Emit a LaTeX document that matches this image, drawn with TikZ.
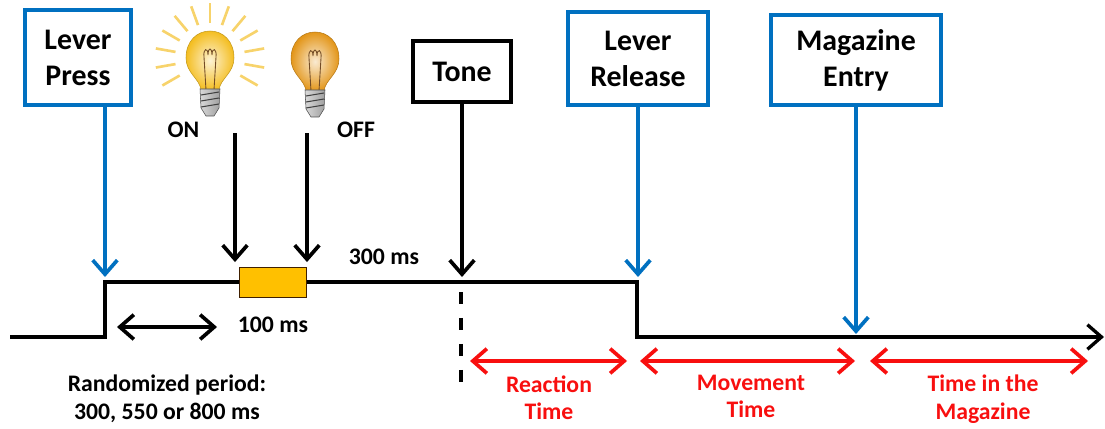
\documentclass[tikz,border=0pt]{standalone}
\usepackage{fontspec}
\setmainfont{Carlito}
\usetikzlibrary{arrows.meta, positioning, calc}
\definecolor{mblue}{HTML}{0070C0}
\definecolor{mred}{HTML}{F80F0F}
\definecolor{mamber}{HTML}{FFC000}
\definecolor{mray}{HTML}{F7D36B}
\definecolor{bulbon}{HTML}{F4BE22}
\definecolor{bulboff}{HTML}{E3961A}
\tikzset{
  evbox/.style={draw=mblue, line width=2pt, fill=white, align=center, inner sep=0pt,
                font=\fontsize{17}{20.5}\selectfont\bfseries},
  tonebox/.style={evbox, draw=black},
  flashbox/.style={draw=black!75!orange, fill=mamber, line width=0.8pt},
  lbl/.style={font=\fontsize{13.5}{15.4}\selectfont\bfseries, inner sep=0pt, align=center},
  rlbl/.style={lbl, text=mred},
  tline/.style={line width=1.9pt, black},
  bstem/.style={->, line width=2.1pt, mblue, shorten >=0.1cm},
  kstem/.style={->, line width=2.1pt, black, shorten >=0.1cm},
  span/.style={<->, line width=2.1pt},
  bulb/.pic={
    % glass
    \shadedraw[inner color=#1!20!white, outer color=#1, draw=#1!80!black, line width=0.3pt]
      (-9,29) .. controls (-10,18) and (-24,12) .. (-24,-3)
      .. controls (-24,-20) and (-13,-30) .. (0,-30)
      .. controls (13,-30) and (24,-20) .. (24,-3)
      .. controls (24,12) and (10,18) .. (9,29) -- cycle;
    % filament
    \draw[brown!60!black, line width=0.5pt]
      (-4,29) -- (-6,-4) .. controls (-7,-13) and (-2,-14) .. (-2,-6)
      .. controls (-2,-14) and (2,-14) .. (2,-6)
      .. controls (2,-14) and (7,-13) .. (6,-4) -- (4,29);
    % screw base
    \shadedraw[left color=gray!30, right color=gray!75, draw=gray!60!black, line width=0.3pt]
      (-10,28) -- (10,28) -- (9,47) -- (4,55) -- (-4,55) -- (-9,47) -- cycle;
    \foreach \k in {34,40,46}
      \draw[gray!50!black, line width=0.6pt] (-9,\k) -- (9,\k-3);
  }
}

\begin{document}
\begin{tikzpicture}[x=0.02cm, y=-0.02cm, >={Straight Barb[length=8pt,width=14pt]}]
  \useasboundingbox (0,0) rectangle (1105,429);

  % events
  \node[evbox, minimum width=2.13cm, minimum height=1.91cm] (press) at (78,57.5) {Lever\\Press};
  \node[tonebox, minimum width=1.97cm, minimum height=1.23cm] (tone) at (462,71.5) {Tone};
  \node[evbox, minimum width=2.81cm, minimum height=1.87cm] (release) at (638,58.5) {Lever\\Release};
  \node[evbox, minimum width=3.41cm, minimum height=1.81cm] (entry) at (856,60) {Magazine\\Entry};

  % lever trace
  \coordinate (t0) at (10,337);
  \coordinate (rise) at (105,282);
  \coordinate (drop) at (637,282);
  \coordinate (tend) at (1104,337);
  \draw[tline, ->] (t0) -- (rise |- t0) -- (rise) -- (drop) -- (drop |- tend) -- (tend);
  \node[flashbox, minimum width=1.33cm, minimum height=0.59cm] (flash) at (273,282.5) {};

  % light on / off
  \coordinate (glow) at (210,58);
  \foreach \a in {150,170,...,390}
    \draw[mray, line width=1.5pt] ([shift={(\a:35)}]glow) -- ([shift={(\a:55)}]glow);
  \pic at (210,61) {bulb=bulbon};
  \pic at (315,62) {bulb=bulboff};
  \node[lbl] (on-lbl) at (183.5,130) {ON};
  \node[lbl] (off-lbl) at (356,130) {OFF};
  \coordinate (on-top) at (235,133);
  \coordinate (off-top) at (307,133);
  \draw[kstem] (on-top) -- (on-top |- flash.north);
  \draw[kstem] (off-top) -- (off-top |- flash.north);
  \node[lbl] (ms300) at (384,257) {300 ms};
  \node[lbl, below=0.38cm of flash] (ms100) {100 ms};

  % event arrows
  \draw[bstem] (press.south -| rise) -- (rise);
  \draw[kstem] (tone) -- (tone |- drop);
  \draw[bstem] (release) -- (release |- drop);
  \draw[bstem, shorten >=0.06cm] (entry) -- (entry |- tend);

  % randomized delay
  \coordinate (rp-a) at (117,327);
  \coordinate (rp-b) at (217,327);
  \draw[span] (rp-a) -- (rp-b);
  \node[lbl, anchor=north] (rp-lbl) at (167,375) {Randomized period:\\300, 550 or 800 ms};

  % tone onset marker
  \coordinate (dash-a) at (461,292);
  \coordinate (dash-b) at (461,385);
  \draw[line width=1.8pt, dash pattern=on 0.24cm off 0.28cm] (dash-a) -- (dash-b);

  % measured intervals
  \coordinate (rt-a) at (470,361);
  \coordinate (rt-b) at (627,361);
  \coordinate (mt-a) at (640,361);
  \coordinate (mt-b) at (855,361);
  \coordinate (mg-a) at (870,361);
  \coordinate (mg-b) at (1088,361);
  \draw[span, mred] (rt-a) -- (rt-b);
  \draw[span, mred] (mt-a) -- (mt-b);
  \draw[span, mred] (mg-a) -- (mg-b);
  \node[rlbl, anchor=north] (rt-lbl) at (549,375) {Reaction\\Time};
  \node[rlbl, anchor=north] (mt-lbl) at (751,375) {Movement\\Time};
  \node[rlbl, anchor=north] (mg-lbl) at (983,375) {Time in the\\Magazine};
\end{tikzpicture}
\end{document}
